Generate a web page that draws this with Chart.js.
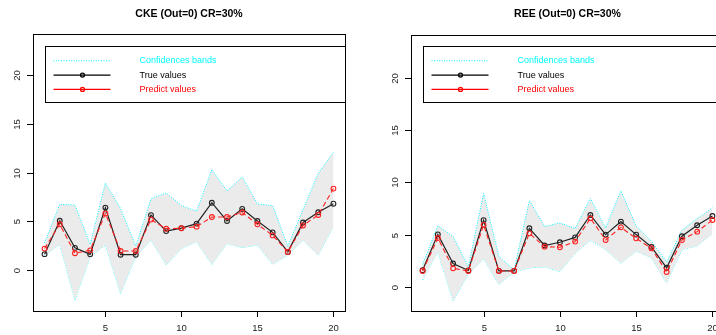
<!DOCTYPE html>
<html>
<head>
<meta charset="utf-8">
<script src="https://cdn.jsdelivr.net/npm/chart.js@4/dist/chart.umd.min.js"></script>
<style>
  html, body { margin: 0; padding: 0; background: #fff; }
  #wrap { position: relative; width: 716px; height: 335px; overflow: hidden; }
  #leftBox { position: absolute; left: 0; top: 0; }
  #rightBox { position: absolute; left: 358px; top: 0; }
</style>
</head>
<body>
<div id="wrap">
  <div id="leftBox"><canvas id="ckeChart" width="358" height="335"></canvas></div>
  <div id="rightBox"><canvas id="reeChart" width="380" height="335"></canvas></div>
</div>
<script>
// observation index
var steps = [1, 2, 3, 4, 5, 6, 7, 8, 9, 10, 11, 12, 13, 14, 15, 16, 17, 18, 19, 20];

// true values (same in both panels)
var trueVals = [1.63, 5.05, 2.27, 1.61, 6.4, 1.57, 1.57, 5.63, 3.99, 4.3, 4.76, 6.9, 5.03, 6.27, 5.03, 3.86, 1.86, 4.87, 5.92, 6.8];

// CKE panel
var ckePred = [2.2, 4.69, 1.72, 2.02, 5.8, 1.95, 1.95, 5.17, 4.23, 4.28, 4.45, 5.44, 5.43, 5.9, 4.69, 3.55, 1.86, 4.57, 5.65, 8.35];
var ckeUpper = [2.78, 6.74, 6.66, 2.62, 8.92, 6.3, 2.45, 7.3, 7.9, 6.62, 6.03, 10.3, 8.1, 9.54, 6.78, 6.6, 2.44, 6.2, 9.9, 12.1];
var ckeLower = [1.5, 2.62, -3.1, 1.35, 2.56, -2.41, 1.4, 3.05, 0.52, 2.2, 2.9, 0.58, 2.7, 2.3, 2.56, 0.58, 1.52, 3.05, 1.5, 4.5];

// REE panel
var reePred = [1.56, 4.7, 1.81, 1.56, 5.95, 1.56, 1.56, 5.15, 3.88, 3.82, 4.36, 6.58, 4.52, 5.72, 4.67, 3.72, 1.46, 4.52, 5.31, 6.42];
var reeUpper = [2.2, 5.87, 4.85, 1.98, 8.95, 2.95, 1.65, 8.28, 5.8, 6.15, 5.6, 8.48, 5.66, 9.2, 5.85, 4.4, 2.4, 5.45, 6.57, 7.57];
var reeLower = [0.7, 3.4, -1.32, 1.25, 2.72, 0.27, 1.45, 1.86, 1.95, 1.5, 3.25, 4.48, 3.6, 2.3, 3.45, 2.8, 0.42, 3.58, 3.95, 5.12];

var xTicks = [5, 10, 15, 20];
var yTicks = [0, 5, 10, 15, 20];

var FONT = '"Liberation Sans", Arial, sans-serif';

function pts(ys) {
    return steps.map(function (s, i) { return { x: s, y: ys[i] }; });
}

// draws the R-style box, axes, title and legend
var rPlot = {
    id: 'rPlot',
    afterDraw: function (chart) {
        var o = chart.options.plugins.rPlot;
        var ctx = chart.ctx;
        var ca = chart.chartArea;
        var xs = chart.scales.x, ys = chart.scales.y;
        ctx.save();

        // title
        ctx.fillStyle = '#000';
        ctx.font = 'bold 10.5px ' + FONT;
        ctx.textAlign = 'center';
        ctx.textBaseline = 'middle';
        ctx.fillText(o.title, (ca.left + ca.right) / 2, 14);

        // box
        ctx.strokeStyle = '#000';
        ctx.lineWidth = 1;
        ctx.strokeRect(Math.round(ca.left) + 0.5, Math.round(ca.top) + 0.5,
            Math.round(ca.right - ca.left), Math.round(ca.bottom - ca.top));

        // axes ticks + labels
        ctx.font = '9.5px ' + FONT;
        ctx.fillStyle = '#222';
        yTicks.forEach(function (v) {
            var y = Math.round(ys.getPixelForValue(v)) + 0.5;
            ctx.beginPath();
            ctx.moveTo(ca.left, y);
            ctx.lineTo(ca.left - 6, y);
            ctx.stroke();
            ctx.save();
            ctx.translate(ca.left - 16, y);
            ctx.rotate(-Math.PI / 2);
            ctx.fillText(String(v), 0, 0);
            ctx.restore();
        });
        xTicks.forEach(function (v) {
            var x = Math.round(xs.getPixelForValue(v)) + 0.5;
            ctx.beginPath();
            ctx.moveTo(x, ca.bottom);
            ctx.lineTo(x, ca.bottom + 6);
            ctx.stroke();
            ctx.fillText(String(v), x, ca.bottom + 17);
        });

        // legend, anchored at (1, 23), clipped to plot region
        ctx.beginPath();
        ctx.rect(ca.left, ca.top, ca.right - ca.left, ca.bottom - ca.top);
        ctx.clip();
        var lx = Math.round(xs.getPixelForValue(1)) + 0.5;
        var ly = Math.round(ys.getPixelForValue(23)) + 0.5;
        ctx.strokeStyle = '#000';
        ctx.strokeRect(lx, ly, 400, 56);
        var rows = [
            { label: 'Confidences bands', color: '#00ffff', dash: [1, 1.5], dot: false },
            { label: 'True values', color: '#000', dash: [], dot: true },
            { label: 'Predict values', color: '#ff0000', dash: [], dot: true }
        ];
        ctx.font = '9px ' + FONT;
        ctx.textAlign = 'left';
        rows.forEach(function (r, i) {
            var yy = ly + 14.3 + i * 14.3;
            ctx.strokeStyle = r.color;
            ctx.lineWidth = r.dot ? 1.3 : 1;
            ctx.setLineDash(r.dash);
            ctx.beginPath();
            ctx.moveTo(lx + 8, yy);
            ctx.lineTo(lx + 65, yy);
            ctx.stroke();
            ctx.setLineDash([]);
            if (r.dot) {
                ctx.beginPath();
                ctx.arc(lx + 37, yy, 2, 0, Math.PI * 2);
                ctx.stroke();
            }
            ctx.fillStyle = r.color;
            ctx.fillText(r.label, lx + 94, yy);
        });
        ctx.restore();
    }
};

function makeChart(id, title, pred, upper, lower, yMin, yMax, pad) {
    return new Chart(document.getElementById(id).getContext('2d'), {
        type: 'line',
        data: {
            datasets: [{
                label: 'Predict values',
                data: pts(pred),
                borderColor: '#ff2020',
                borderWidth: 1.1,
                borderDash: [5, 3],
                pointRadius: 2.4,
                pointBorderWidth: 1.1,
                pointBorderColor: '#ff2020',
                pointBackgroundColor: 'rgba(0,0,0,0)',
                fill: false
            }, {
                label: 'True values',
                data: pts(trueVals),
                borderColor: '#222',
                borderWidth: 1.2,
                pointRadius: 2.4,
                pointBorderWidth: 1.1,
                pointBorderColor: '#222',
                pointBackgroundColor: 'rgba(0,0,0,0)',
                fill: false
            }, {
                label: 'upper',
                data: pts(upper),
                borderColor: '#00ffff',
                borderWidth: 1,
                borderDash: [1, 1.5],
                pointRadius: 0,
                backgroundColor: '#ebebeb',
                fill: '+1'
            }, {
                label: 'lower',
                data: pts(lower),
                borderColor: '#00ffff',
                borderWidth: 1,
                borderDash: [1, 1.5],
                pointRadius: 0,
                fill: false
            }]
        },
        options: {
            responsive: false,
            animation: false,
            layout: { padding: pad },
            scales: {
                x: { type: 'linear', min: 0.24, max: 20.76, display: false },
                y: { type: 'linear', min: yMin, max: yMax, display: false }
            },
            plugins: {
                legend: { display: false },
                tooltip: { enabled: false },
                rPlot: { title: title }
            }
        },
        plugins: [rPlot]
    });
}

makeChart('ckeChart', 'CKE (Out=0) CR=30%', ckePred, ckeUpper, ckeLower, -4.2, 24.2,
    { left: 33, right: 13, top: 34, bottom: 24 });
makeChart('reeChart', 'REE (Out=0) CR=30%', reePred, reeUpper, reeLower, -2.26, 24.07,
    { left: 53, right: 14, top: 35, bottom: 24 });
</script>
</body>
</html>
